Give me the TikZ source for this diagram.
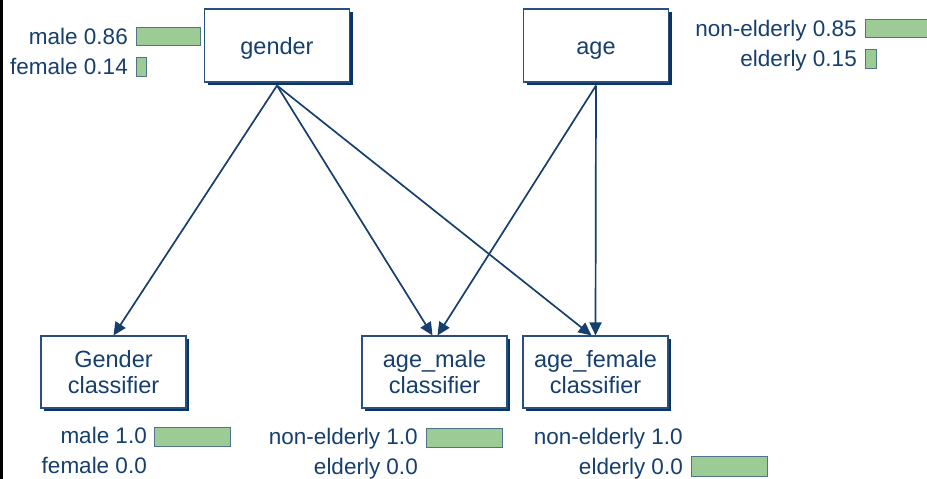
\documentclass[tikz,border=0pt]{standalone}
\usepackage{fontspec}
\setmainfont{Liberation Sans}
\usetikzlibrary{arrows.meta,shadows}
\definecolor{navy}{HTML}{163F6E}
\definecolor{boxline}{HTML}{2B4F7D}
\definecolor{shadowc}{HTML}{063566}
\definecolor{barfill}{HTML}{9CCB96}
\definecolor{barline}{HTML}{4F7388}
\begin{document}
\begin{tikzpicture}[x=1pt,y=-1pt,
  varbox/.style={draw=boxline,line width=1.1pt,fill=white,
    general shadow={fill=shadowc,shadow xshift=3pt,shadow yshift=-3pt},
    minimum width=145pt,minimum height=73pt,inner sep=0pt,
    text=navy,align=center,font=\fontsize{23.5}{26.5}\selectfont},
  onevar/.style={varbox,text height=17pt,text depth=0pt},
  lbl/.style={anchor=base east,inner sep=0pt,text=navy,font=\fontsize{22.5}{25}\selectfont},
  bar/.style={fill=barfill,draw=barline,line width=0.9pt},
  link/.style={draw=navy,line width=1.7pt,-{Triangle[length=13pt,width=12pt]}}]
  \useasboundingbox (0,0) rectangle (927,479);
  \fill[black] (0,0) rectangle (2.5,479);

  % variable and classifier boxes
  \node[onevar] (gender) at (277,45.5) {gender};
  \node[onevar] (age) at (596,45.5) {age};
  \node[varbox,minimum height=72pt] (gclass) at (113.5,372) {Gender\\classifier};
  \node[varbox,minimum height=72pt] (amale) at (434.5,372) {age\_male\\classifier};
  \node[varbox,minimum height=72pt] (afemale) at (595.5,372) {age\_female\\classifier};

  % dependencies
  \draw[link] ([yshift=-3pt]gender.south) -- (gclass.north);
  \draw[link] ([yshift=-3pt]gender.south) -- ([xshift=-2pt]amale.north);
  \draw[link] ([yshift=-3pt]gender.south) -- ([xshift=-4pt]afemale.north);
  \draw[link] ([yshift=-3pt]age.south) -- ([xshift=3pt]amale.north);
  \draw[link] ([yshift=-3pt]age.south) -- (afemale.north);

  % gender prior
  \node[lbl] (pm) at (128,44) {male 0.86};
  \node[lbl] (pf) at (128,74) {female 0.14};
  \draw[bar] (136,27) rectangle (200,45);
  \draw[bar] (136,57) rectangle (146,76);

  % age prior
  \node[lbl] (pn) at (857,36.5) {non-elderly 0.85};
  \node[lbl] (pe) at (857,66.5) {elderly 0.15};
  \draw[bar] (865,19) rectangle (932,37);
  \draw[bar] (865,49) rectangle (876,68);

  % gender classifier output
  \node[lbl] (gm) at (147,443.5) {male 1.0};
  \node[lbl] (gf) at (147,473) {female 0.0};
  \draw[bar] (154,427) rectangle (230,446);

  % age_male classifier output
  \node[lbl] (mn) at (418,444) {non-elderly 1.0};
  \node[lbl] (me) at (418,474) {elderly 0.0};
  \draw[bar] (426,428) rectangle (502,447);

  % age_female classifier output
  \node[lbl] (fn) at (683,444) {non-elderly 1.0};
  \node[lbl] (fe) at (683,474) {elderly 0.0};
  \draw[bar] (691,456) rectangle (767,476);
\end{tikzpicture}
\end{document}
